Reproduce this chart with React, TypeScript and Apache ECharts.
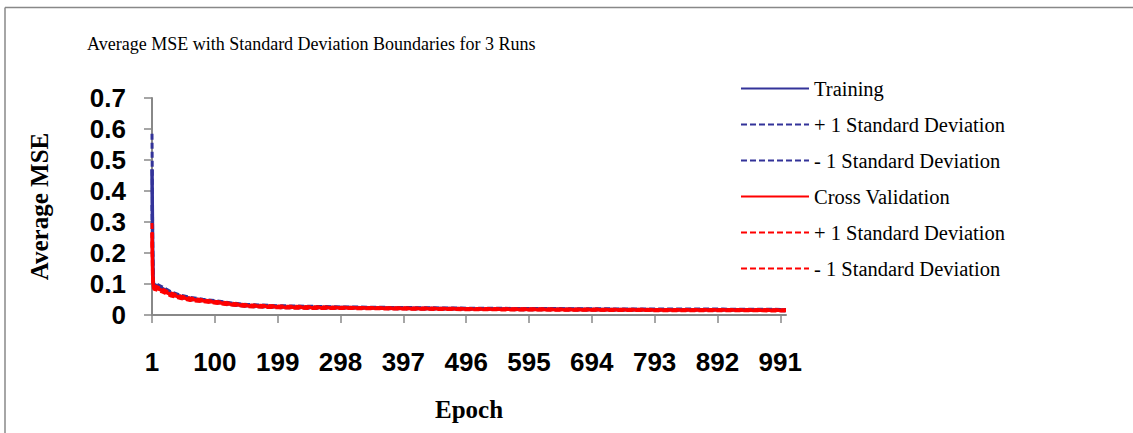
import React, { useEffect, useRef } from "react";
import * as echarts from "echarts";

const epochs: string[] = Array.from({ length: 1000 }, (_, i) => String(i + 1));
const sampleIdx = [0, 1, 2, 3, 6, 15, 30, 45, 60, 80, 100, 125, 150, 200, 250, 300, 400, 500, 600, 700, 800, 900, 999];

const training = [0.470, 0.22, 0.104, 0.099, 0.096, 0.087, 0.070, 0.060, 0.053, 0.048, 0.043, 0.036, 0.031, 0.027, 0.025, 0.024, 0.022, 0.020, 0.019, 0.018, 0.017, 0.017, 0.016];
const trainingPlus = [0.585, 0.27, 0.110, 0.104, 0.101, 0.092, 0.075, 0.064, 0.057, 0.051, 0.046, 0.039, 0.034, 0.030, 0.028, 0.026, 0.024, 0.022, 0.021, 0.020, 0.019, 0.019, 0.018];
const trainingMinus = [0.355, 0.17, 0.098, 0.094, 0.091, 0.082, 0.065, 0.056, 0.049, 0.045, 0.040, 0.033, 0.028, 0.024, 0.022, 0.022, 0.020, 0.018, 0.017, 0.016, 0.015, 0.015, 0.014];
const crossVal = [0.265, 0.13, 0.094, 0.089, 0.087, 0.080, 0.066, 0.057, 0.051, 0.046, 0.041, 0.035, 0.030, 0.026, 0.024, 0.023, 0.021, 0.019, 0.018, 0.017, 0.016, 0.016, 0.015];
const crossValPlus = [0.297, 0.15, 0.100, 0.095, 0.093, 0.085, 0.071, 0.061, 0.055, 0.049, 0.044, 0.038, 0.033, 0.029, 0.027, 0.025, 0.023, 0.021, 0.020, 0.019, 0.018, 0.018, 0.017];
const crossValMinus = [0.235, 0.11, 0.088, 0.083, 0.081, 0.075, 0.061, 0.053, 0.047, 0.043, 0.038, 0.032, 0.027, 0.023, 0.021, 0.021, 0.019, 0.017, 0.016, 0.015, 0.014, 0.014, 0.013];

const legendLabels: Record<string, string> = {
  tr: "Training",
  trp: "+ 1 Standard Deviation",
  trm: "- 1 Standard Deviation",
  cv: "Cross Validation",
  cvp: "+ 1 Standard Deviation",
  cvm: "- 1 Standard Deviation",
};

const BLUE = "#333399";
const RED = "#ff0000";

function pairs(vals: number[]) {
  return sampleIdx.map((x, i) => [x, vals[i]]);
}

export default function App() {
  const ref = useRef<HTMLDivElement>(null);
  useEffect(() => {
    document.body.style.margin = "0";
    const chart = echarts.init(ref.current!, null, { renderer: "svg" });
    const mk = (id: string, vals: number[], color: string, dashed: boolean, z: number) => ({
      name: id,
      type: "line",
      data: pairs(vals),
      symbol: "none",
      z,
      lineStyle: { color, width: dashed ? 3 : 3.5, type: dashed ? [6, 3] : "solid" },
      itemStyle: { color },
    });
    chart.setOption({
      animation: false,
      backgroundColor: "#ffffff",
      title: {
        text: "Average MSE with Standard Deviation Boundaries for 3 Runs",
        left: 82,
        top: 30,
        textStyle: { fontFamily: "Liberation Serif", fontSize: 18, fontWeight: "normal", color: "#000" },
      },
      legend: {
        orient: "vertical",
        left: 735,
        top: 73,
        itemWidth: 68,
        itemHeight: 14,
        itemGap: 15,
        itemStyle: { opacity: 0 },
        formatter: (n: string) => legendLabels[n],
        textStyle: { fontFamily: "Liberation Serif", fontSize: 20.5, color: "#000" },
        data: ["tr", "trp", "trm", "cv", "cvp", "cvm"],
      },
      grid: { left: 152, top: 98, right: 347, bottom: 118, containLabel: false },
      xAxis: {
        type: "category",
        data: epochs,
        boundaryGap: false,
        name: "Epoch",
        nameLocation: "middle",
        nameGap: 82,
        nameTextStyle: { fontFamily: "Liberation Serif", fontSize: 25, fontWeight: "bold", color: "#000" },
        axisLine: { lineStyle: { color: "#888", width: 2 } },
        axisTick: { interval: 98, length: 8, lineStyle: { color: "#888", width: 1.5 } },
        axisLabel: {
          interval: 98,
          margin: 34,
          fontFamily: "Liberation Sans",
          fontWeight: "bold",
          fontSize: 26,
          color: "#000",
        },
        splitLine: { show: false },
      },
      yAxis: {
        type: "value",
        min: 0,
        max: 0.7,
        interval: 0.1,
        name: "Average MSE",
        nameLocation: "middle",
        nameRotate: 90,
        nameGap: 100,
        nameTextStyle: { fontFamily: "Liberation Serif", fontSize: 25, fontWeight: "bold", color: "#000" },
        axisLine: { show: true, lineStyle: { color: "#888", width: 2 } },
        axisTick: { show: true, length: 8, lineStyle: { color: "#888", width: 1.5 } },
        axisLabel: {
          margin: 26,
          fontFamily: "Liberation Sans",
          fontWeight: "bold",
          fontSize: 26,
          color: "#000",
        },
        splitLine: { show: false },
      },
      graphic: [
        { type: "line", shape: { x1: 5, y1: 7.5, x2: 1133, y2: 7.5 }, style: { stroke: "#888", lineWidth: 1.5 } },
        { type: "line", shape: { x1: 5, y1: 7.5, x2: 5, y2: 433 }, style: { stroke: "#888", lineWidth: 1.5 } },
      ],
      series: [
        mk("tr", training, BLUE, false, 2),
        mk("trp", trainingPlus, BLUE, true, 2),
        mk("trm", trainingMinus, BLUE, true, 2),
        mk("cv", crossVal, RED, false, 3),
        mk("cvp", crossValPlus, RED, true, 3),
        mk("cvm", crossValMinus, RED, true, 3),
      ],
    });
    return () => chart.dispose();
  }, []);
  return <div ref={ref} style={{ position: "absolute", left: 0, top: 0, width: 1133, height: 433 }} />;
}
